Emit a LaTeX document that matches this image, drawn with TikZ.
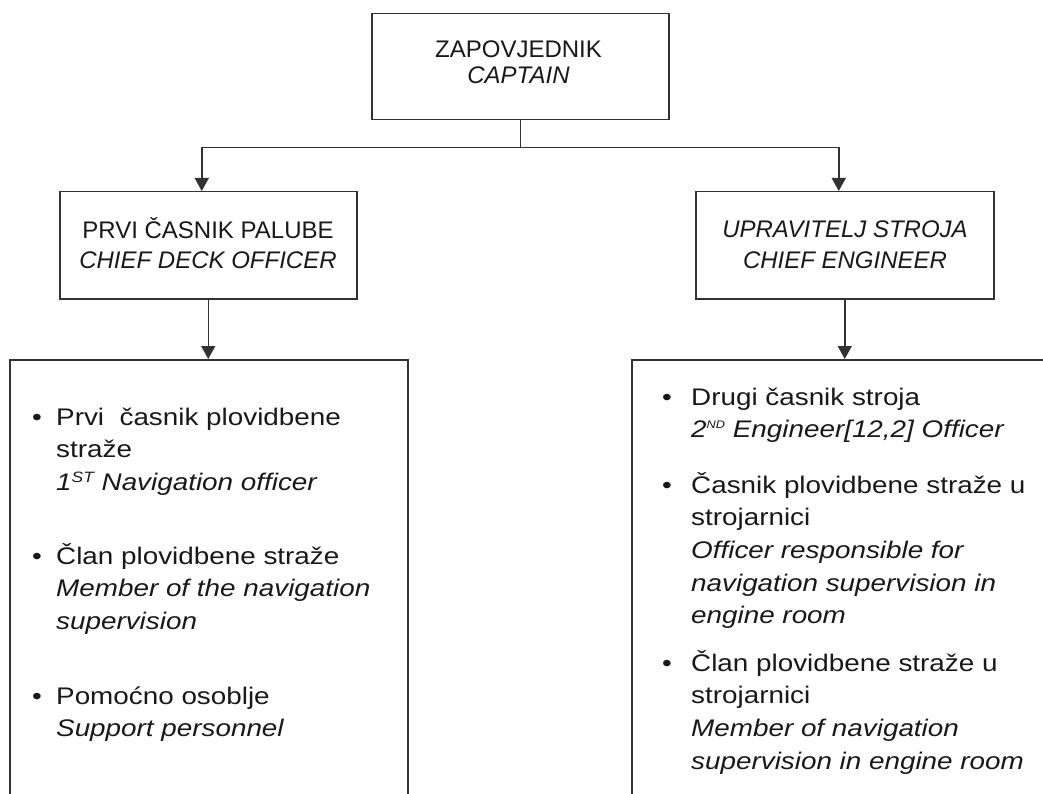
\documentclass[tikz,border=0pt]{standalone}
\usepackage{fontspec}
\setmainfont{Liberation Sans}
\newfontfamily\widef[FakeStretch=1.16]{Liberation Sans}
\usetikzlibrary{arrows.meta}
\definecolor{ln}{RGB}{50,50,50}
\definecolor{tx}{RGB}{25,25,25}
\tikzset{
  box/.style={draw=ln, line width=1.5pt, inner sep=0pt, anchor=north west},
  lbl/.style={text=tx, inner sep=0pt, anchor=base, font=\fontsize{24}{29}\selectfont},
  itm/.style={text=tx, inner sep=0pt, anchor=base west},
  bul/.style={text=tx, inner sep=0pt, anchor=base, font=\widef\fontsize{24}{29}\selectfont},
  conn/.style={draw=ln, line width=1.5pt},
  arr/.style={conn, -{Triangle[width=14pt,length=13pt]}}
}
\newcommand{\itext}[1]{\parbox[t]{420pt}{\raggedright\widef\fontsize{24}{32.7}\selectfont #1}}
\begin{document}
\begin{tikzpicture}[x=1pt,y=-1pt]
\useasboundingbox (0,0) rectangle (1043,794);
\fill[white] (0,0) rectangle (1043,794);
\clip (0,0) rectangle (1043,794);

% boxes
\node[box, minimum width=297pt, minimum height=106pt] (cap) at (371,13) {};
\node[box, minimum width=297pt, minimum height=107pt] (mid1) at (59,191) {};
\node[box, minimum width=298pt, minimum height=107pt] (mid2) at (695,191) {};
\node[box, minimum width=398pt, minimum height=500pt] (low1) at (9,359) {};
\node[box, minimum width=500pt, minimum height=500pt] (low2) at (631,359) {};

% box titles
\node[lbl] (capa) at (518.5,58) {ZAPOVJEDNIK};
\node[lbl] (capb) at (518.5,84) {\itshape CAPTAIN};
\node[lbl] (m1a) at (208,239) {PRVI ČASNIK PALUBE};
\node[lbl] (m1b) at (208,268) {\itshape CHIEF DECK OFFICER};
\node[lbl] (m2a) at (845,238) {\itshape UPRAVITELJ STROJA};
\node[lbl] (m2b) at (845,268) {\itshape CHIEF ENGINEER};

% left list
\node[bul] (lb1) at (37,425) {•};
\node[itm] (li1) at (56,425) {\itext{Prvi\ \ časnik plovidbene\\straže\\\itshape 1\raisebox{8pt}{\fontsize{15}{15}\selectfont ST} Navigation officer}};
\node[bul] (lb2) at (37,564) {•};
\node[itm] (li2) at (56,564) {\itext{Član plovidbene straže\\\itshape Member of the navigation\\supervision}};
\node[bul] (lb3) at (37,704) {•};
\node[itm] (li3) at (56,704) {\itext{Pomoćno osoblje\\\itshape Support personnel}};

% right list
\node[bul] (rb1) at (667,405) {•};
\node[itm] (ri1) at (691,405) {\itext{Drugi časnik stroja\\\itshape 2\raisebox{9pt}{\fontsize{11}{11}\selectfont ND} Engineer[12,2] Officer}};
\node[bul] (rb2) at (667,493) {•};
\node[itm] (ri2) at (691,493) {\itext{Časnik plovidbene straže u\\strojarnici\\\itshape Officer responsible for\\navigation supervision in\\engine room}};
\node[bul] (rb3) at (667,671) {•};
\node[itm] (ri3) at (691,671) {\itext{Član plovidbene straže u\\strojarnici\\\itshape Member of navigation\\supervision in engine room}};

% connectors
\draw[conn] (cap.south) -- ++(0,27) coordinate (j);
\draw[arr] (j) -| ([xshift=-6.5pt]mid1.north);
\draw[arr] (j) -| ([xshift=-6pt]mid2.north);
\draw[arr] (mid1.south) -- (mid1.south |- low1.north);
\draw[arr] (mid2.south) -- (mid2.south |- low2.north);
\end{tikzpicture}
\end{document}
